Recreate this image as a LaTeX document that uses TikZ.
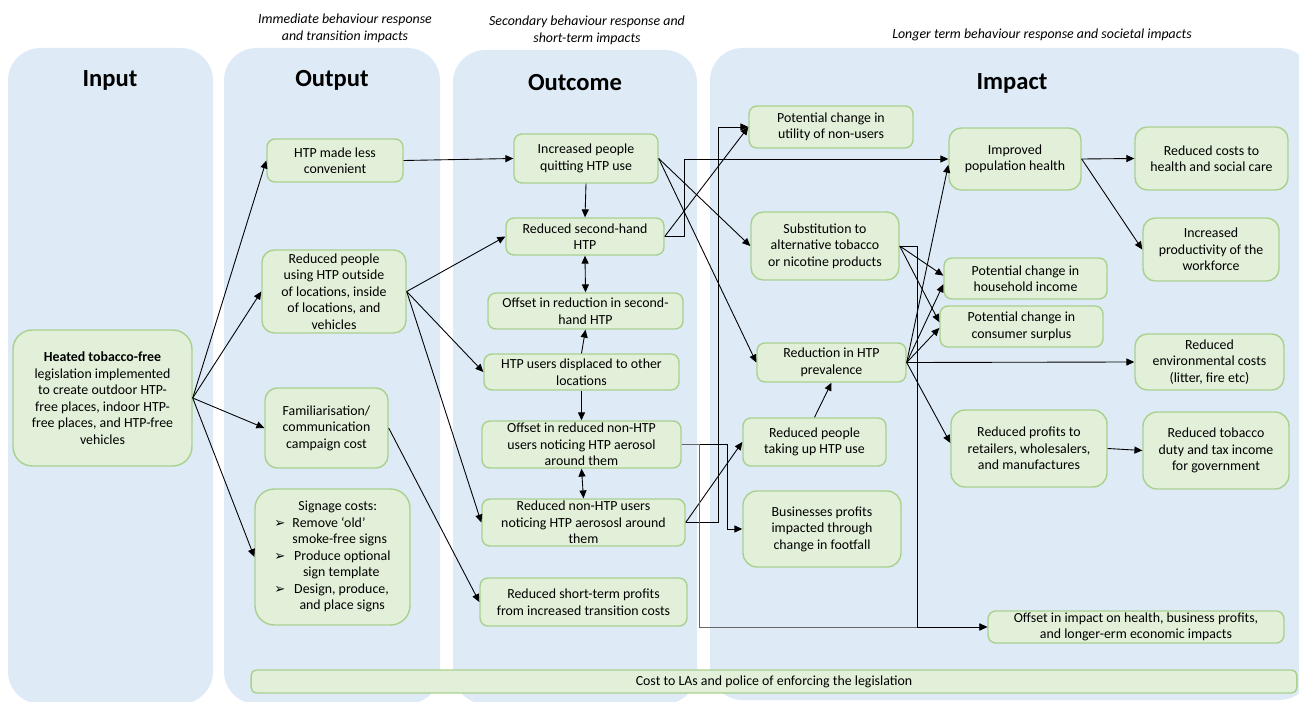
\documentclass[tikz,border=0pt]{standalone}
\usepackage{fontspec}
\setmainfont{Carlito}
\newfontfamily\dejavu{DejaVu Sans}
\usetikzlibrary{arrows.meta}
\definecolor{colfill}{HTML}{DEEAF6}
\definecolor{boxfill}{HTML}{E2F0D9}
\definecolor{boxline}{HTML}{A9D18E}
\newcommand\txtsize{\fontsize{7.9}{9.4}\selectfont}
\newcommand\bulletarrow{{\dejavu\fontsize{7.5}{8}\selectfont\char"27A2}}
\tikzset{
  colbg/.style={fill=colfill,rounded corners=0.65cm},
  headtext/.style={font=\fontsize{14}{16}\selectfont\bfseries},
  captext/.style={font=\txtsize\itshape,align=center},
  box/.style={draw=boxline,fill=boxfill,line width=0.8pt,rounded corners=4.5pt,
    align=center,inner sep=1pt,font=\txtsize},
  conn/.style={-{Triangle[length=4.5pt,width=4pt]},line width=0.5pt},
  both/.style={{Triangle[length=4.5pt,width=4pt]}-{Triangle[length=4.5pt,width=4pt]},line width=0.5pt},
}
\begin{document}
\begin{tikzpicture}[x=0.02cm,y=-0.02cm]
  \useasboundingbox (0,0) rectangle (1299,702);
  % columns
  \fill[colbg] (8,48) rectangle (213,704);
  \fill[colbg] (224,48) rectangle (440,704);
  \fill[colbg] (453,50) rectangle (697,704);
  \fill[colbg] (710,48) rectangle (1312,700);
  \node[headtext] (hin) at (110,80) {Input};
  \node[headtext] (hout) at (332,80) {Output};
  \node[headtext] (hoc) at (575,83) {Outcome};
  \node[headtext] (him) at (1012,83) {Impact};
  \node[captext] (cout) at (345,28.5) {Immediate behaviour response\\and transition impacts};
  \node[captext] (coc) at (587,30.5) {Secondary behaviour response and\\short-term impacts};
  \node[captext] (cim) at (1042,35) {Longer term behaviour response and societal impacts};

  % input and output
  \node[box,minimum width=3.58cm,minimum height=2.72cm,rounded corners=11pt] (legis) at (102.5,398)
    {\textbf{Heated tobacco-free}\\legislation implemented\\to create outdoor HTP-\\free places, indoor HTP-\\free places, and HTP-free\\vehicles};
  \node[box,minimum width=2.72cm,minimum height=0.86cm] (lessconv) at (335,160.5) {HTP made less\\convenient};
  \node[box,minimum width=2.88cm,minimum height=1.66cm,rounded corners=7pt] (reduse) at (334,291.5)
    {Reduced people\\using HTP outside\\of locations, inside\\of locations, and\\vehicles};
  \node[box,minimum width=2.46cm,minimum height=1.6cm,rounded corners=7pt] (famil) at (326.5,428)
    {Familiarisation/\\communication\\campaign cost};
  \node[box,minimum width=3.1cm,minimum height=2.72cm,rounded corners=11pt] (signage) at (332.5,557)
    {\begin{tabular}{@{}c@{\hspace{4pt}}l@{}}
      \multicolumn{2}{c}{\hspace{6pt}Signage costs:}\\
      \bulletarrow & Remove ‘old’\\
      & smoke-free signs\\
      \bulletarrow & \hspace{1pt}Produce optional\\
      & \hspace{6pt}sign template\\
      \bulletarrow & \hspace{1pt}Design, produce,\\
      & \hspace{4pt}and place signs
    \end{tabular}};

  % outcome
  \node[box,minimum width=2.88cm,minimum height=0.98cm] (quit) at (586,158.5) {Increased people\\quitting HTP use};
  \node[box,minimum width=3.16cm,minimum height=0.74cm] (shand) at (585,236.5) {Reduced second-hand\\HTP};
  \node[box,minimum width=3.9cm,minimum height=0.72cm] (offsh) at (585.5,311) {Offset in reduction in second-\\hand HTP};
  \node[box,minimum width=3.9cm,minimum height=0.72cm] (displ) at (581.5,372) {HTP users displaced to other\\locations};
  \node[box,minimum width=3.98cm,minimum height=0.94cm,inner ysep=0pt] (offnon) at (581.5,444.5)
    {Offset in reduced non-HTP\\users noticing HTP aerosol\\around them};
  \node[box,minimum width=4.06cm,minimum height=0.94cm,inner ysep=0pt] (rednon) at (583.5,522.5)
    {Reduced non-HTP users\\noticing HTP aerososl around\\them};
  \node[box,minimum width=4.14cm,minimum height=0.96cm] (shortprof) at (583.5,602)
    {Reduced short-term profits\\from increased transition costs};

  % impact
  \node[box,minimum width=3.28cm,minimum height=0.84cm] (utility) at (831,127) {Potential change in\\utility of non-users};
  \node[box,minimum width=2.96cm,minimum height=1.36cm,rounded corners=7pt] (subst) at (825,246)
    {Substitution to\\alternative tobacco\\or nicotine products};
  \node[box,minimum width=2.98cm,minimum height=0.78cm] (preval) at (831.5,362.5) {Reduction in HTP\\prevalence};
  \node[box,minimum width=2.86cm,minimum height=0.96cm] (uptake) at (814.5,442) {Reduced people\\taking up HTP use};
  \node[box,minimum width=3.16cm,minimum height=1.52cm,rounded corners=8pt] (footfall) at (822,529)
    {Businesses profits\\impacted through\\change in footfall};
  \node[box,minimum width=2.64cm,minimum height=1.24cm,rounded corners=7pt] (health) at (1015,159) {Improved\\population health};
  \node[box,minimum width=3.06cm,minimum height=1.26cm,rounded corners=7pt] (costs) at (1211.5,158.5)
    {Reduced costs to\\health and social care};
  \node[box,minimum width=2.72cm,minimum height=1.26cm,rounded corners=7pt] (product) at (1211,249.5)
    {Increased\\productivity of the\\workforce};
  \node[box,minimum width=3.26cm,minimum height=0.82cm] (income) at (1025.5,278.5) {Potential change in\\household income};
  \node[box,minimum width=3.26cm,minimum height=0.82cm] (surplus) at (1021.5,326.5) {Potential change in\\consumer surplus};
  \node[box,minimum width=2.98cm,minimum height=1.12cm,rounded corners=7pt] (env) at (1209.5,362)
    {Reduced\\environmental costs\\(litter, fire etc)};
  \node[box,minimum width=3.12cm,minimum height=1.54cm,rounded corners=8pt] (retail) at (1029,448.5)
    {Reduced profits to\\retailers, wholesalers,\\and manufactures};
  \node[box,minimum width=2.92cm,minimum height=1.54cm,rounded corners=8pt] (duty) at (1216,450.5)
    {Reduced tobacco\\duty and tax income\\for government};
  \node[box,minimum width=5.92cm,minimum height=0.64cm] (offimpact) at (1136,627)
    {Offset in impact on health, business profits,\\and longer-erm economic impacts};
  \node[box,minimum width=20.92cm,minimum height=0.46cm,rounded corners=3pt] (enforce) at (774,681.5)
    {Cost to LAs and police of enforcing the legislation};

  % connectors
  \draw[conn] (legis.east) -- (lessconv.west);
  \draw[conn] (legis.east) -- (reduse.west);
  \draw[conn] (legis.east) -- (famil.west);
  \draw[conn] (legis.east) -- (signage.west);
  \draw[conn] (lessconv.east) -- (quit.west);
  \draw[conn] (reduse.east) -- (shand.west);
  \draw[conn] (reduse.east) -- (displ.west);
  \draw[conn] (reduse.east) -- (rednon.west);
  \draw[conn] (famil.east) -- (shortprof.west);
  \draw[conn] (quit.south) -- (shand.north);
  \draw[both] (shand.south) -- (offsh.north);
  \draw[conn] (displ.north) -- (offsh.south);
  \draw[conn] (displ.south) -- (offnon.north);
  \draw[both] (rednon.north) -- (offnon.south);
  \draw[conn] (quit.east) -- (subst.west);
  \draw[conn] (quit.east) -- (preval.west);
  \draw[conn] (shand.east) -- (utility.west);
  \draw[conn] (shand.east) -- ++(20,0) |- (health.west);
  \draw[conn] (rednon.east) -- ++(33,0) |- (utility.west);
  \draw[conn] (rednon.east) -- (uptake.west);
  \draw[conn] (offnon.east) -- ++(46,0) |- (footfall.west);
  \draw[conn,black!60] (offnon.east) -- ++(18,0) |- (offimpact.west);
  \draw[conn] (subst.east) -- ++(18,0) |- (offimpact.west);
  \draw[conn] (subst.east) -- (income.178);
  \draw[conn] (subst.east) -- (surplus.177);
  \draw[conn] (preval.east) -- (health.185);
  \draw[conn] (preval.east) -- (income.184);
  \draw[conn] (preval.east) -- (surplus.181);
  \draw[conn] (preval.east) -- (env.west);
  \draw[conn] (preval.east) -- (retail.176);
  \draw[conn] (uptake.north) -- (preval.south);
  \draw[conn] (health.east) -- (costs.west);
  \draw[conn] (health.east) -- (product.west);
  \draw[conn] (retail.east) -- (duty.west);
\end{tikzpicture}
\end{document}
